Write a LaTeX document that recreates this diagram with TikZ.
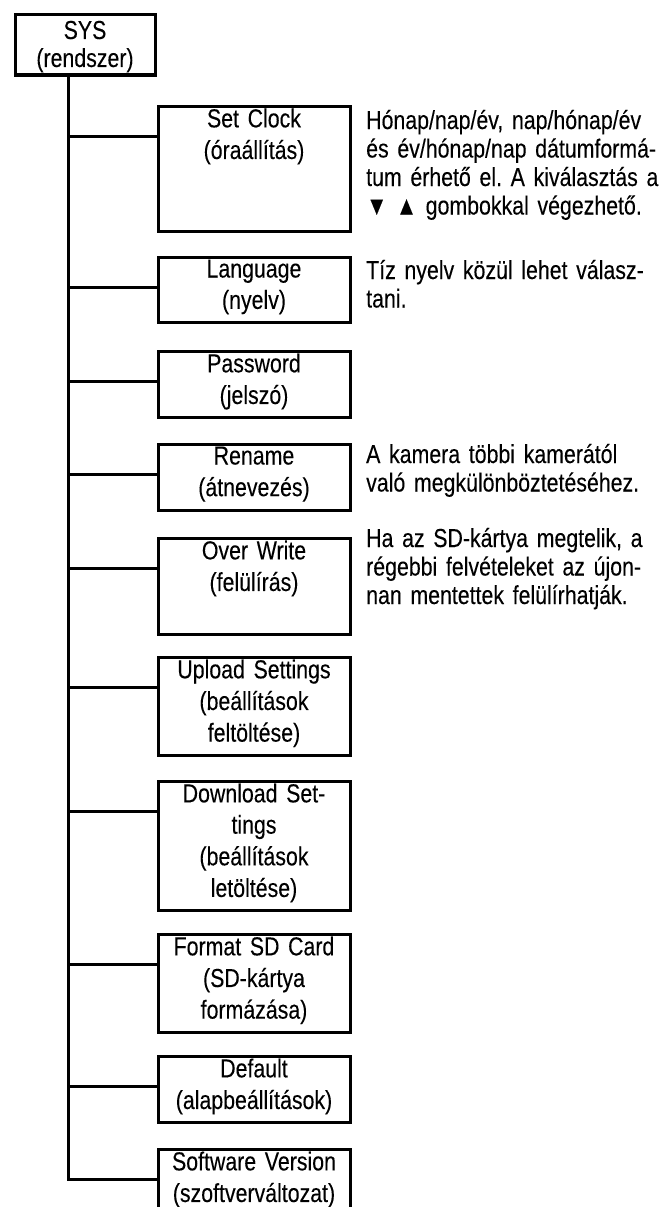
\documentclass[tikz,border=0pt]{standalone}
\usepackage{fontspec}
\setmainfont[FakeStretch=0.82,FakeBold=0.15]{Liberation Sans}
\newcommand\bst{\rule[-11.5pt]{0pt}{29.5pt}}
\newcommand\sst{\rule[-6pt]{0pt}{28pt}}
\newcommand\myfont[2]{\fontsize{#1}{#2}\selectfont\spaceskip=5.9pt plus 1pt minus 1pt\relax}
\frenchspacing
\tikzset{
  box/.style={draw, line width=3pt, rectangle, anchor=north west,
    text width=186pt, inner xsep=3pt, inner ysep=2.5pt, align=center,
    font=\myfont{26}{29.5}},
  sysbox/.style={draw, line width=3pt, rectangle, anchor=north west,
    text width=134pt, inner xsep=3pt, inner ysep=0pt, minimum height=60pt,
    align=center, font=\myfont{26}{28}},
  desc/.style={anchor=base west, text width=320pt, align=left, inner sep=0pt,
    font=\myfont{26}{28.5}},
  conn/.style={line width=3pt}
}
\begin{document}
\begin{tikzpicture}[x=1pt,y=-1pt]
\useasboundingbox (0,0) rectangle (659,1207);
\clip (0,0) rectangle (659,1207);
\node[sysbox] (sys) at (13.5,13.5) {\sst SYS\\\sst(rendszer)};
\node[box] (sc)   at (156.5,104.5)  {\bst Set Clock\\\bst(óraállítás)\\\bst\\\bst};
\node[box] (lang) at (156.5,255.5)  {\bst Language\\\bst(nyelv)};
\node[box] (pw)   at (156.5,349.5)  {\bst Password\\\bst(jelszó)};
\node[box] (rn)   at (156.5,442.5)  {\bst Rename\\\bst(átnevezés)};
\node[box] (ow)   at (156.5,536.5)  {\bst Over Write\\\bst(felülírás)\\\bst};
\node[box] (up)   at (156.5,655.5)  {\bst Upload Settings\\\bst(beállítások\\\bst feltöltése)};
\node[box] (dl)   at (156.5,779.5)  {\bst Download Set-\\\bst tings\\\bst(beállítások\\\bst letöltése)};
\node[box] (fmt)  at (156.5,932.5)  {\bst Format SD Card\\\bst(SD-kártya\\\bst formázása)};
\node[box] (def)  at (156.5,1054.5) {\bst Default\\\bst(alapbeállítások)};
\node[box] (sw)   at (156.5,1147.5) {\bst Software Version\\\bst(szoftverváltozat)};
\coordinate (tx) at (68.5,0);
\foreach \n in {sc,lang,pw,rn,ow,up,dl,fmt,def,sw}{
  \coordinate (b-\n) at ([yshift=-32pt]\n.north west);
}
\draw[conn] (sys.south -| tx) |- (b-sw);
\foreach \n in {sc,lang,pw,rn,ow,up,dl,fmt,def}{
  \draw[conn] (b-\n -| tx) -- (b-\n);
}
\node[desc] (scd) at (366,129) {Hónap/nap/év, nap/hónap/év\\és év/hónap/nap dátumformá-\\tum érhető el. A kiválasztás a\\▼ ▲ gombokkal végezhető.};
\node[desc] (langd) at (366,279) {Tíz nyelv közül lehet válasz-\\tani.};
\node[desc] (rnd) at (366,463) {A kamera többi kamerától\\való megkülönböztetéséhez.};
\node[desc] (owd) at (366,547) {Ha az SD-kártya megtelik, a\\régebbi felvételeket az újon-\\nan mentettek felülírhatják.};
\end{tikzpicture}
\end{document}
